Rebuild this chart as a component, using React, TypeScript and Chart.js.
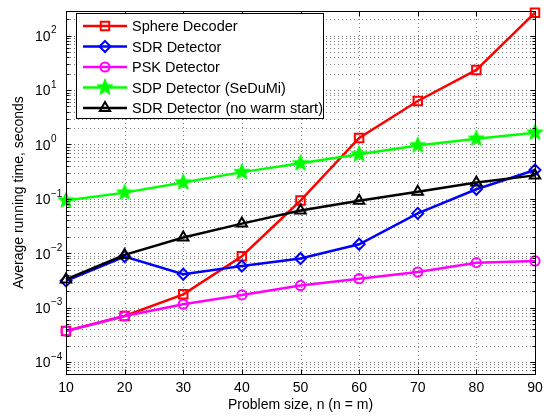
import React, { useEffect, useRef } from 'react';
import { Chart, registerables } from 'chart.js';
import { drawPoint } from 'chart.js/helpers';

Chart.register(...registerables);

const problemSizes = [10, 20, 30, 40, 50, 60, 70, 80, 90];
const sphereDecoder = [3.7e-4, 7.0e-4, 1.75e-3, 8.8e-3, 0.093, 1.32, 6.3, 23.5, 265];
const sdrDetector = [3.1e-3, 8.7e-3, 4.1e-3, 5.8e-3, 8.0e-3, 0.0146, 0.054, 0.15, 0.34];
const pskDetector = [3.7e-4, 7.0e-4, 1.15e-3, 1.71e-3, 2.55e-3, 3.4e-3, 4.5e-3, 6.7e-3, 7.2e-3];
const sdpDetector = [0.093, 0.13, 0.2, 0.31, 0.45, 0.66, 0.96, 1.28, 1.65];
const sdrNoWarmStart = [3.3e-3, 9.3e-3, 0.0194, 0.035, 0.061, 0.092, 0.135, 0.2, 0.27];

const seriesNames = [
  'Sphere Decoder',
  'SDR Detector',
  'PSK Detector',
  'SDP Detector (SeDuMi)',
  'SDR Detector (no warm start)',
];
const xTickValues = [10, 20, 30, 40, 50, 60, 70, 80, 90];
const yDecadeExponents = [-4, -3, -2, -1, 0, 1, 2];
const xTitle = 'Problem size, n (n = m)';
const yTitle = 'Average running time, seconds';

const FONT = '"Liberation Sans", Arial, Helvetica, sans-serif';

function makeStar(outer: number, inner: number, color: string) {
  const c = document.createElement('canvas');
  const s = 22;
  c.width = s;
  c.height = s;
  const ctx = c.getContext('2d')!;
  ctx.beginPath();
  for (let i = 0; i < 10; i++) {
    const r = i % 2 === 0 ? outer : inner;
    const a = -Math.PI / 2 + (i * Math.PI) / 5;
    ctx.lineTo(s / 2 + r * Math.cos(a), s / 2 + r * Math.sin(a));
  }
  ctx.closePath();
  ctx.fillStyle = color;
  ctx.fill();
  ctx.strokeStyle = color;
  ctx.lineWidth = 1;
  ctx.stroke();
  return c;
}

export default function App() {
  const canvasRef = useRef<HTMLCanvasElement | null>(null);

  useEffect(() => {
    const canvas = canvasRef.current;
    if (!canvas) return;
    const star = makeStar(8.5, 3.6, '#00ff00');

    const styles = [
      { color: '#ff0000', pointStyle: 'rect', radius: 6, fill: 'rgba(0,0,0,0)' },
      { color: '#0000ff', pointStyle: 'rectRot', radius: 5.5, fill: 'rgba(0,0,0,0)' },
      { color: '#ff00ff', pointStyle: 'circle', radius: 4.6, fill: 'rgba(0,0,0,0)' },
      { color: '#00ff00', pointStyle: star as any, radius: 9, fill: '#00ff00' },
      { color: '#000000', pointStyle: 'triangle', radius: 6, fill: 'rgba(0,0,0,0)' },
    ];
    const seriesValues = [sphereDecoder, sdrDetector, pskDetector, sdpDetector, sdrNoWarmStart];

    const datasets = seriesValues.map((vals, i) => ({
      label: seriesNames[i],
      data: problemSizes.map((x, j) => ({ x, y: vals[j] })),
      borderColor: styles[i].color,
      backgroundColor: styles[i].fill,
      borderWidth: 2.5,
      pointStyle: styles[i].pointStyle,
      pointRadius: styles[i].radius,
      pointBorderWidth: 2,
      pointBorderColor: styles[i].color,
      pointBackgroundColor: styles[i].fill,
      tension: 0,
      clip: false as any,
      order: 5 - i,
    }));

    const frame = {
      id: 'matlabFrame',
      beforeDatasetsDraw(chart: any) {
        const { ctx, chartArea: a, scales } = chart;
        const x = scales.x;
        const y = scales.y;
        ctx.save();
        ctx.strokeStyle = 'rgba(0,0,0,0.5)';
        ctx.lineWidth = 1;
        ctx.setLineDash([1, 3]);
        for (const v of xTickValues) {
          const px = Math.round(x.getPixelForValue(v)) + 0.5;
          if (px <= a.left + 1 || px >= a.right - 1) continue;
          ctx.beginPath();
          ctx.moveTo(px, a.top);
          ctx.lineTo(px, a.bottom);
          ctx.stroke();
        }
        for (let e = -5; e <= 2; e++) {
          for (let m = 1; m <= 9; m++) {
            const v = m * Math.pow(10, e);
            const py = Math.round(y.getPixelForValue(v)) + 0.5;
            if (py <= a.top + 1 || py >= a.bottom - 1) continue;
            ctx.beginPath();
            ctx.moveTo(a.left, py);
            ctx.lineTo(a.right, py);
            ctx.stroke();
          }
        }
        ctx.restore();
      },
      afterDatasetsDraw(chart: any) {
        const { ctx, chartArea: a, scales } = chart;
        const x = scales.x;
        const y = scales.y;
        ctx.save();
        ctx.setLineDash([]);
        ctx.strokeStyle = '#000';
        ctx.lineWidth = 1;
        const L = Math.round(a.left) + 0.5;
        const R = Math.round(a.right) + 0.5;
        const T = Math.round(a.top) + 0.5;
        const B = Math.round(a.bottom) + 0.5;
        ctx.strokeRect(L, T, R - L, B - T);
        for (const v of xTickValues) {
          const px = Math.round(x.getPixelForValue(v)) + 0.5;
          ctx.beginPath();
          ctx.moveTo(px, B);
          ctx.lineTo(px, B - 5);
          ctx.moveTo(px, T);
          ctx.lineTo(px, T + 5);
          ctx.stroke();
        }
        for (let e = -5; e <= 2; e++) {
          for (let m = 1; m <= 9; m++) {
            const v = m * Math.pow(10, e);
            const py = Math.round(y.getPixelForValue(v)) + 0.5;
            if (py < a.top || py > a.bottom) continue;
            const len = m === 1 ? 5 : 3;
            ctx.beginPath();
            ctx.moveTo(L, py);
            ctx.lineTo(L + len, py);
            ctx.moveTo(R, py);
            ctx.lineTo(R - len, py);
            ctx.stroke();
          }
        }
        ctx.fillStyle = '#000';
        for (const e of yDecadeExponents) {
          const py = y.getPixelForValue(Math.pow(10, e));
          ctx.font = `14px ${FONT}`;
          ctx.textAlign = 'right';
          ctx.textBaseline = 'middle';
          ctx.fillText('10', 50.5, py + 1.5);
          ctx.font = `10px ${FONT}`;
          ctx.textAlign = 'left';
          ctx.fillText(e < 0 ? '\u2212' + Math.abs(e) : String(e), 51, py - 5);
        }
        const lx0 = 76.5, ly0 = 13.5, lx1 = 323.5, ly1 = 118.5;
        ctx.fillStyle = '#fff';
        ctx.fillRect(lx0, ly0, lx1 - lx0, ly1 - ly0);
        ctx.strokeStyle = '#000';
        ctx.lineWidth = 1;
        ctx.strokeRect(lx0, ly0, lx1 - lx0, ly1 - ly0);
        const rowY = [26, 46.5, 67, 87.5, 108];
        seriesNames.forEach((name, i) => {
          const st = styles[i];
          const ry = rowY[i];
          ctx.strokeStyle = st.color;
          ctx.lineWidth = 2.5;
          ctx.beginPath();
          ctx.moveTo(83, ry);
          ctx.lineTo(127, ry);
          ctx.stroke();
          ctx.fillStyle = st.fill;
          ctx.lineWidth = 2;
          drawPoint(ctx, { pointStyle: st.pointStyle, radius: st.radius, borderWidth: 2, rotation: 0 } as any, 105, ry);
          ctx.fillStyle = '#000';
          ctx.font = `14.5px ${FONT}`;
          ctx.textAlign = 'left';
          ctx.textBaseline = 'middle';
          ctx.fillText(name, 132, ry + 1);
        });
        ctx.restore();
      },
    };

    const chart = new Chart(canvas, {
      type: 'line',
      data: { datasets: datasets as any },
      options: {
        animation: false,
        responsive: false,
        maintainAspectRatio: false,
        devicePixelRatio: 1,
        layout: { padding: { top: 4, right: 18, left: 0, bottom: 0 } },
        plugins: {
          legend: { display: false },
          tooltip: { enabled: false },
        },
        scales: {
          x: {
            type: 'linear',
            min: 10,
            max: 90,
            afterBuildTicks: (s: any) => {
              s.ticks = xTickValues.map((v) => ({ value: v }));
            },
            ticks: {
              color: '#000',
              font: { family: FONT, size: 14 },
              padding: 6,
              maxRotation: 0,
              autoSkip: false,
              callback: (v: any) => String(v),
            },
            grid: { display: false, drawTicks: false },
            border: { display: false },
            title: {
              display: true,
              text: xTitle,
              color: '#000',
              font: { family: FONT, size: 14 },
              padding: { top: 0, bottom: 6 },
            },
            afterFit: (s: any) => {
              s.height = 46;
            },
          },
          y: {
            type: 'logarithmic',
            min: 6e-5,
            max: 285,
            ticks: { display: false },
            grid: { display: false, drawTicks: false },
            border: { display: false },
            title: {
              display: true,
              text: yTitle,
              color: '#000',
              font: { family: FONT, size: 14 },
              padding: { top: 11, bottom: 0 },
            },
            afterFit: (s: any) => {
              s.width = 66;
            },
          },
        },
      },
      plugins: [frame],
    });

    return () => {
      chart.destroy();
    };
  }, []);

  return (
    <div style={{ position: 'absolute', left: 0, top: 0, width: 553, height: 420, background: '#fff' }}>
      <canvas ref={canvasRef} width={553} height={420} style={{ display: 'block' }} />
    </div>
  );
}
